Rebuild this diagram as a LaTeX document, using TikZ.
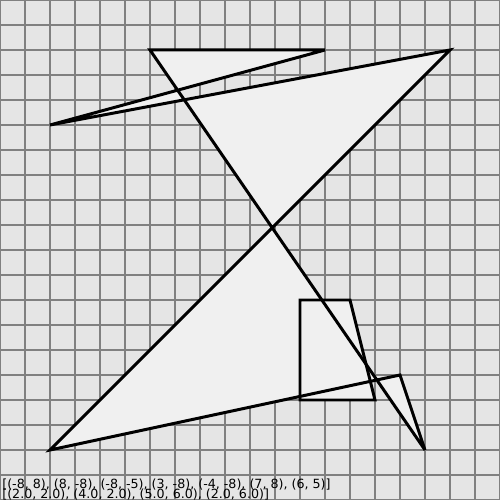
\documentclass[tikz,border=0pt]{standalone}
\usepackage{fontspec}
\setmainfont{DejaVu Sans}
\usetikzlibrary{positioning}
\definecolor{paperGray}{RGB}{229,229,229}
\definecolor{gridGray}{RGB}{128,128,128}
\definecolor{shapeFill}{RGB}{240,240,240}
\tikzset{
  gridline/.style={draw=gridGray, line width=0.6pt},
  shapefill/.style={fill=shapeFill},
  shapeline/.style={draw=black, line width=1.7pt, miter limit=4},
  coordtext/.style={anchor=base west, inner sep=0pt, font=\fontsize{7.2}{7}\selectfont}
}

\begin{document}
\begin{tikzpicture}[x=0.5cm, y=0.5cm]
  \useasboundingbox (-10,-10) rectangle (10,10);
  \fill[paperGray] (-10,-10) rectangle (10,10);
  \foreach \k in {-10,...,10} {
    \draw[gridline] (\k,-10) -- (\k,10);
    \draw[gridline] (-10,\k) -- (10,\k);
  }
  % polygon points
  \coordinate (p1) at (-8,-8);
  \coordinate (p2) at (8,8);
  \coordinate (p3) at (-8,5);
  \coordinate (p4) at (3,8);
  \coordinate (p5) at (-4,8);
  \coordinate (p6) at (7,-8);
  \coordinate (p7) at (6,-5);
  % quad points
  \coordinate (q1) at (2,-2);
  \coordinate (q2) at (4,-2);
  \coordinate (q3) at (5,-6);
  \coordinate (q4) at (2,-6);
  \fill[shapefill] (p1) -- (p2) -- (p3) -- (p4) -- (p5) -- (p6) -- (p7) -- cycle;
  \fill[shapefill] (q1) -- (q2) -- (q3) -- (q4) -- cycle;
  \draw[shapeline] (p1) -- (p2) -- (p3) -- (p4) -- (p5) -- (p6) -- (p7) -- cycle;
  \draw[shapeline] (q1) -- (q2) -- (q3) -- (q4) -- cycle;
  \node[coordtext] (polylabel) at (-9.92,-9.52) {[(-8, 8), (8, -8), (-8, -5), (3, -8), (-4, -8), (7, 8), (6, 5)]};
  \node[coordtext] (quadlabel) at (-9.92,-9.92) {[(2.0, 2.0), (4.0, 2.0), (5.0, 6.0), (2.0, 6.0)]};
\end{tikzpicture}
\end{document}
